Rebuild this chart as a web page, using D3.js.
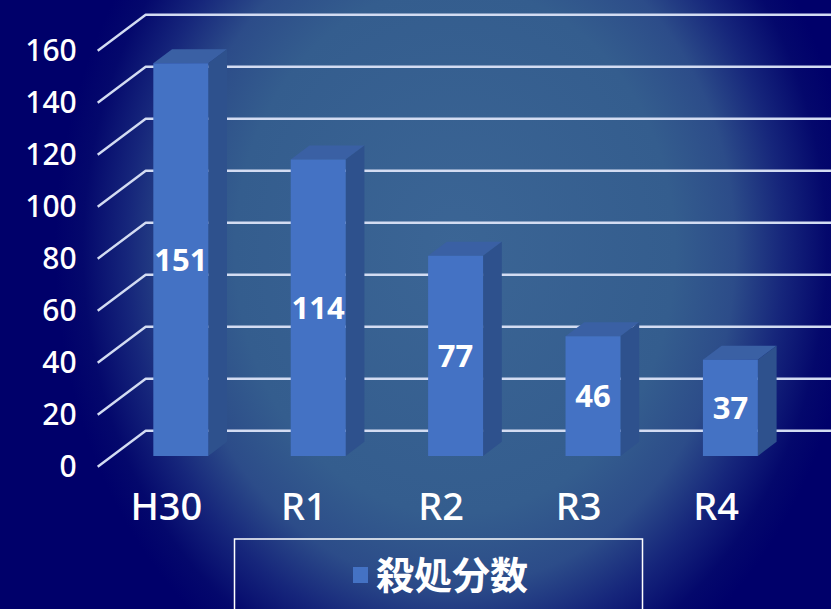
<!DOCTYPE html>
<html lang="ja">
<head>
<meta charset="utf-8">
<title>殺処分数</title>
<script src="https://cdn.jsdelivr.net/npm/d3@7"></script>
<style>
  html, body { margin: 0; padding: 0; background: #00006a; }
  svg { display: block; }
</style>
</head>
<body>
<svg id="chart" width="831" height="609"></svg>
<script>
// Yearly counts, one bar per fiscal year
const categories = ["H30", "R1", "R2", "R3", "R4"];
const values = [151, 114, 77, 46, 37];
const yTicks = [0, 20, 40, 60, 80, 100, 120, 140, 160];
const seriesName = "殺処分数";

const W = 831, H = 609;
const svg = d3.select("#chart");

// Perspective offset from the front plane to the back wall
const depth = { dx: 48, dy: -36 };
const barFront = 0.30, barBack = 0.69;

const x = d3.scaleBand()
  .domain(categories)
  .range([97.7, 784.7])
  .paddingInner(0.6)
  .paddingOuter(0.3);

const y = d3.scaleLinear()
  .domain([0, 160])
  .range([466.7, 50.7]);

// Background glow
const defs = svg.append("defs");
const cx = 455, cy = 250;
const grad = defs.append("radialGradient")
  .attr("id", "bg")
  .attr("gradientUnits", "userSpaceOnUse")
  .attr("cx", cx).attr("cy", cy).attr("r", 400)
  .attr("gradientTransform", `translate(${cx},${cy}) scale(1,1.2) translate(${-cx},${-cy})`);
[[0, "#3b6595"], [0.55, "#345d8e"], [0.70, "#2c4c89"], [0.82, "#16267b"], [0.93, "#04086c"], [1, "#00006a"]]
  .forEach(([o, c]) => grad.append("stop").attr("offset", o).attr("stop-color", c));

svg.append("rect").attr("width", W).attr("height", H).attr("fill", "url(#bg)");

// Gridlines: a slanted run from the front plane to the back wall, then across
const grid = svg.append("g").attr("class", "grid");
const x0 = x.range()[0];
yTicks.forEach(t => {
  const yf = y(t);
  grid.append("path")
    .attr("d", `M${x0},${yf} L${x0 + depth.dx},${yf + depth.dy} L${W},${yf + depth.dy}`)
    .attr("fill", "none")
    .attr("stroke", "#d3dcf2")
    .attr("stroke-width", 2.4)
    .attr("stroke-linejoin", "round");
});

// Y axis labels
const yAxis = svg.append("g")
  .attr("transform", `translate(${x0},0)`)
  .call(d3.axisLeft(y).tickValues(yTicks).tickSize(0).tickPadding(21));
yAxis.select(".domain").remove();
yAxis.selectAll("text")
  .attr("fill", "#ffffff")
  .attr("font-family", "'Noto Sans', 'DejaVu Sans', sans-serif")
  .attr("font-size", 30)
  .attr("font-weight", 500);

// X axis labels
const xAxis = svg.append("g")
  .attr("transform", `translate(0,${y(0)})`)
  .call(d3.axisBottom(x).tickSize(0));
xAxis.select(".domain").remove();
xAxis.selectAll("text")
  .attr("y", 53)
  .attr("dy", 0)
  .attr("fill", "#ffffff")
  .attr("font-family", "'Noto Sans', 'DejaVu Sans', sans-serif")
  .attr("font-size", 38)
  .attr("font-weight", 500);

// 3D bars
const pt = (xv, v, f) => [xv + f * depth.dx, y(v) + f * depth.dy];
const poly = pts => "M" + pts.map(p => p.join(",")).join("L") + "Z";
const bw = x.bandwidth();

const bars = svg.append("g").attr("class", "bars")
  .selectAll("g").data(categories.map((c, i) => ({ c, v: values[i] })))
  .join("g");

bars.append("path")
  .attr("d", d => {
    const xl = x(d.c), xr = xl + bw;
    return poly([pt(xl, d.v, barFront), pt(xr, d.v, barFront), pt(xr, d.v, barBack), pt(xl, d.v, barBack)]);
  })
  .attr("fill", "#3a60a4");

bars.append("path")
  .attr("d", d => {
    const xr = x(d.c) + bw;
    return poly([pt(xr, 0, barFront), pt(xr, 0, barBack), pt(xr, d.v, barBack), pt(xr, d.v, barFront)]);
  })
  .attr("fill", "#2e518d");

bars.append("path")
  .attr("d", d => {
    const xl = x(d.c), xr = xl + bw;
    return poly([pt(xl, 0, barFront), pt(xr, 0, barFront), pt(xr, d.v, barFront), pt(xl, d.v, barFront)]);
  })
  .attr("fill", "#4472c4");

// Value labels centred on each bar's front face
bars.append("text")
  .attr("x", d => x(d.c) + bw / 2 + barFront * depth.dx)
  .attr("y", d => (y(0) + y(d.v)) / 2 + barFront * depth.dy)
  .attr("dy", "0.36em")
  .attr("text-anchor", "middle")
  .attr("fill", "#ffffff")
  .attr("font-family", "'Noto Sans', 'Open Sans', sans-serif")
  .attr("font-size", 31)
  .attr("font-weight", 700)
  .text(d => d.v);

// Legend
const legend = svg.append("g").attr("class", "legend");
legend.append("rect")
  .attr("x", 234.5).attr("y", 539)
  .attr("width", 408).attr("height", 90)
  .attr("fill", "none")
  .attr("stroke", "#ffffff")
  .attr("stroke-width", 1.5);
legend.append("rect")
  .attr("x", 353).attr("y", 567)
  .attr("width", 15).attr("height", 16)
  .attr("fill", "#4472c4");
legend.append("text")
  .attr("x", 376).attr("y", 589)
  .attr("fill", "#ffffff")
  .attr("font-family", "'Noto Sans CJK JP', 'Noto Sans CJK SC', sans-serif")
  .attr("font-size", 38)
  .attr("font-weight", 700)
  .text(seriesName);
</script>
</body>
</html>
